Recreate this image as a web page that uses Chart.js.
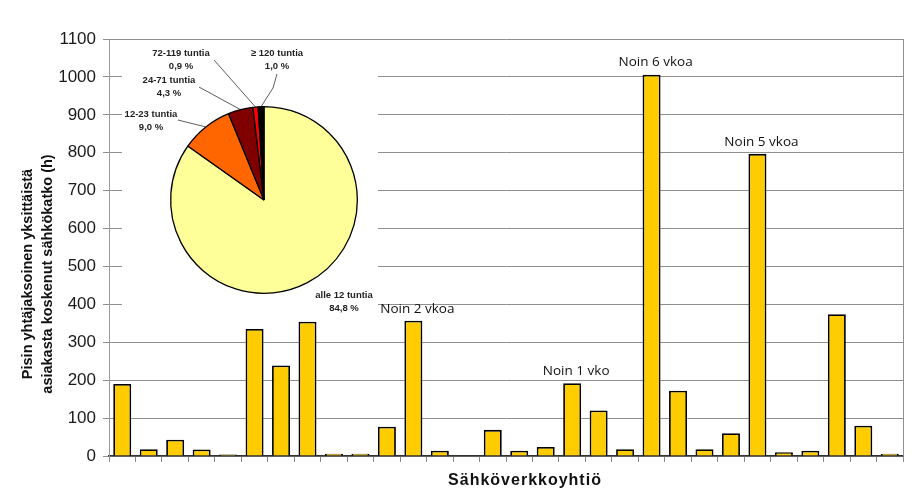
<!DOCTYPE html>
<html>
<head>
<meta charset="utf-8">
<script src="https://cdn.jsdelivr.net/npm/chart.js@4"></script>
<style>
  html, body { margin: 0; padding: 0; background: #fff; }
  #wrap { position: relative; width: 916px; height: 498px; }
  #barChart { position: absolute; left: 0; top: 0; }
  #pieBox { position: absolute; left: 122px; top: 42px; width: 256px; height: 274px; background: #fff; }
</style>
</head>
<body>
<div id="wrap">
  <canvas id="barChart" width="916" height="498"></canvas>
  <div id="pieBox"><canvas id="pieChart" width="256" height="274"></canvas></div>
</div>
<script>
// bar data: longest single outage per network company (hours)
const companies = ['1','2','3','4','5','6','7','8','9','10','11','12','13','14','15',
  '16','17','18','19','20','21','22','23','24','25','26','27','28','29','30'];
const outageHours = [190, 18, 43, 17, 4, 335, 239, 354, 6, 6, 77, 357, 14, 0, 69,
  14, 24, 192, 120, 18, 1006, 172, 18, 60, 797, 10, 14, 374, 80, 6];
const noteIndex = [11, 17, 20, 24];
const noteText = ['Noin 2 vkoa', 'Noin 1 vko', 'Noin 6 vkoa', 'Noin 5 vkoa'];
const yMin = 0, yMax = 1100, yStep = 100;
const yTitle = ['Pisin yhtäjaksoinen yksittäistä', 'asiakasta koskenut sähkökatko (h)'];
const xTitle = 'Sähköverkkoyhtiö';

// inset pie: share of customers by outage length
const pieLabels = ['alle 12 tuntia', '12-23 tuntia', '24-71 tuntia', '72-119 tuntia', '\u2265 120 tuntia'];
const pieShares = [84.8, 9.0, 4.3, 0.9, 1.0];
const pieColors = ['#FFFF99', '#FF6600', '#800000', '#FF0000', '#000000'];

const barNotes = {
  id: 'barNotes',
  afterDatasetsDraw(chart) {
    const { ctx, chartArea } = chart;
    const meta = chart.getDatasetMeta(0);
    ctx.save();
    ctx.font = '13.5px "Open Sans"';
    ctx.fillStyle = '#111';
    ctx.textAlign = 'center';
    ctx.textBaseline = 'middle';
    noteIndex.forEach((idx, k) => {
      const bar = meta.data[idx];
      ctx.fillText(noteText[k], bar.x + 4, bar.y - 12);
    });
    // right frame of the plot area
    ctx.strokeStyle = '#8f8f8f';
    ctx.lineWidth = 1;
    ctx.beginPath();
    ctx.moveTo(Math.round(chartArea.right) + 0.5, chartArea.top);
    ctx.lineTo(Math.round(chartArea.right) + 0.5, chartArea.bottom);
    ctx.stroke();

    // axis titles (sit a bit off-centre in the original)
    ctx.fillStyle = '#111';
    ctx.font = 'bold 16px "Liberation Sans"';
    ctx.letterSpacing = '1px';
    ctx.fillText(xTitle, 525, 481);
    ctx.letterSpacing = '0px';
    ctx.font = 'bold 14.5px "Liberation Sans"';
    ctx.translate(0, 274);
    ctx.rotate(-Math.PI / 2);
    ctx.fillText(yTitle[0], 0, 28);
    ctx.fillText(yTitle[1], 0, 48);
    ctx.restore();
  }
};

new Chart(document.getElementById('barChart'), {
  type: 'bar',
  data: {
    labels: companies,
    datasets: [{
      data: outageHours,
      backgroundColor: '#FFCC00',
      borderColor: '#000',
      borderWidth: 1.8,
      barPercentage: 0.68,
      categoryPercentage: 1,
    }],
  },
  options: {
    responsive: false,
    animation: false,
    layout: { padding: { top: 39, right: 13, bottom: 0, left: 0 } },
    plugins: { legend: { display: false }, tooltip: { enabled: false } },
    scales: {
      x: {
        grid: { display: true, drawOnChartArea: false, drawTicks: true, tickLength: 6, offset: true, color: '#8a8a8a' },
        border: { display: true, color: '#333', width: 1.5 },
        ticks: { display: false },
        afterFit(scale) { scale.height = 42; },
      },
      y: {
        min: yMin,
        max: yMax,
        ticks: {
          stepSize: yStep,
          color: '#1a1a1a',
          font: { family: 'Liberation Sans', size: 17 },
          padding: 7,
          callback: v => String(v),
        },
        grid: { color: '#8f8f8f', tickLength: 6 },
        border: { color: '#999' },
        afterFit(scale) { scale.width = 109; },
      },
    },
  },
  plugins: [barNotes],
});

// callout texts around the pie; leader lines go to the slice's mid angle
const pieCallouts = {
  id: 'pieCallouts',
  afterDraw(chart) {
    const { ctx } = chart;
    const meta = chart.getDatasetMeta(0);
    const spots = [
      { x: 222, y: 253 },
      { x: 29, y: 72, lead: [[56, 78]] },
      { x: 47, y: 38, lead: [[77, 45]] },
      { x: 59, y: 11, lead: [[92, 18]] },
      { x: 155, y: 11, lead: [[155, 32], [151, 46]] },
    ];
    ctx.save();
    ctx.strokeStyle = '#333';
    ctx.lineWidth = 0.8;
    spots.forEach((s, i) => {
      const arc = meta.data[i];
      if (s.lead) {
        const mid = (arc.startAngle + arc.endAngle) / 2;
        const r = arc.outerRadius;
        ctx.beginPath();
        ctx.moveTo(s.lead[0][0], s.lead[0][1]);
        s.lead.slice(1).forEach(p => ctx.lineTo(p[0], p[1]));
        ctx.lineTo(arc.x + Math.cos(mid) * r, arc.y + Math.sin(mid) * r);
        ctx.stroke();
      }
      ctx.font = 'bold 9.5px "Liberation Sans"';
      ctx.fillStyle = '#222';
      ctx.textAlign = 'center';
      ctx.textBaseline = 'middle';
      ctx.fillText(pieLabels[i], s.x, s.y);
      ctx.fillText(pieShares[i].toFixed(1).replace('.', ',') + ' %', s.x, s.y + 13);
    });
    ctx.restore();
  }
};

new Chart(document.getElementById('pieChart'), {
  type: 'pie',
  data: {
    labels: pieLabels,
    datasets: [{
      data: pieShares,
      backgroundColor: pieColors,
      borderColor: '#000',
      borderWidth: 1.3,
    }],
  },
  options: {
    responsive: false,
    animation: false,
    layout: { padding: { left: 48, top: 64, right: 20, bottom: 22 } },
    plugins: { legend: { display: false }, tooltip: { enabled: false } },
  },
  plugins: [pieCallouts],
});
</script>
</body>
</html>
